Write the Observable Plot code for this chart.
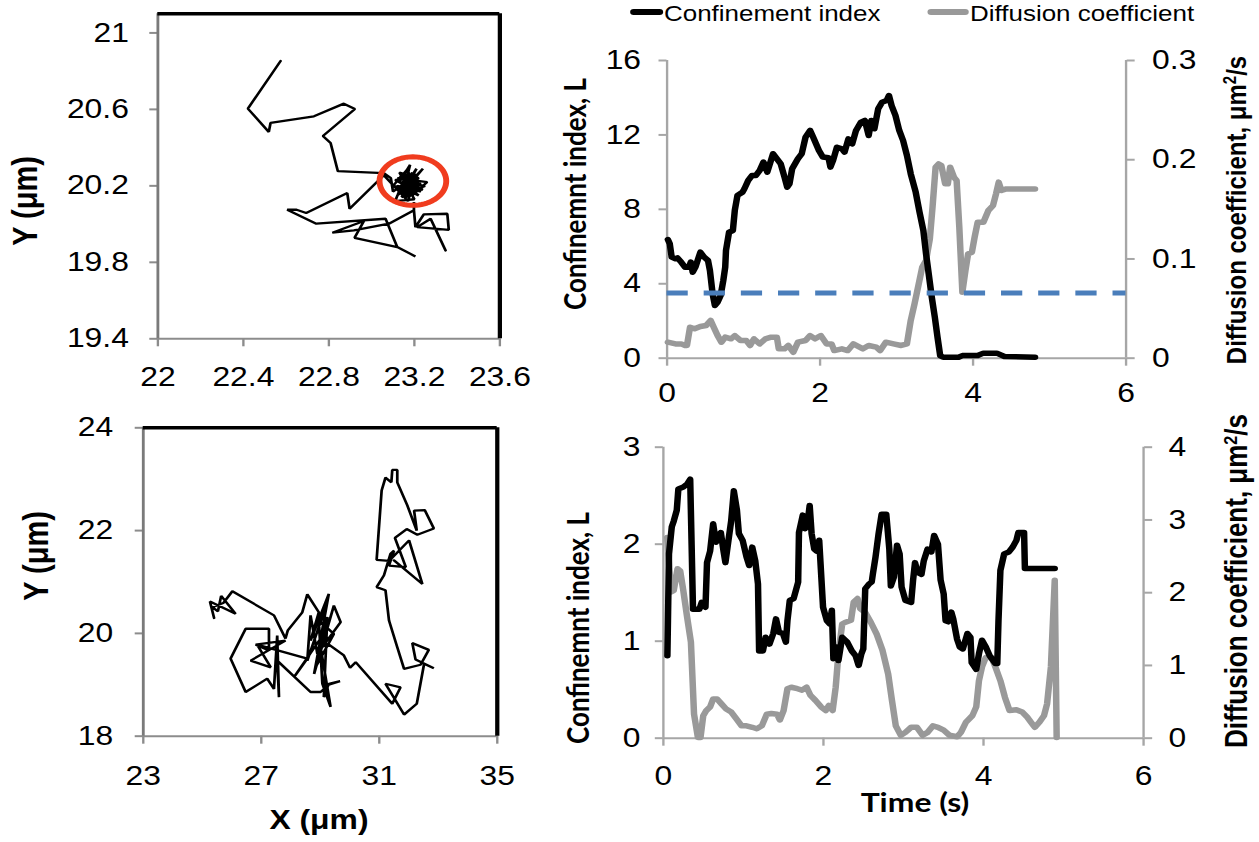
<!DOCTYPE html>
<html><head><meta charset="utf-8">
<script src="https://cdn.jsdelivr.net/npm/d3@7"></script>
<script src="https://cdn.jsdelivr.net/npm/@observablehq/plot@0.6"></script>
<style>
html,body{margin:0;padding:0;background:#fff;overflow:hidden;}
#root{position:relative;height:842px;transform-origin:0 0;font-family:"Liberation Sans",Arial,sans-serif;color:#000;}
#root svg{position:absolute;}
.lbl{position:absolute;white-space:nowrap;line-height:1;transform:translate(-50%,-50%);}
.rot{transform:translate(-50%,-50%) rotate(-90deg);}
.sw{position:absolute;border-radius:3px;}
</style></head><body><div id="root"></div>
<script>
// ---------------- data ----------------
const xTicksA = [22, 22.4, 22.8, 23.2, 23.6];
const yTicksA = [19.4, 19.8, 20.2, 20.6, 21];
const xDomainA = [22, 23.6];
const yDomainA = [19.4, 21.1];
const xTicksB = [23, 27, 31, 35];
const yTicksB = [18, 20, 22, 24];
const xDomainB = [23, 35];
const yDomainB = [18, 24];
const timeTicks = [0, 2, 4, 6];
const ciTicksTop = [0, 4, 8, 12, 16];
const dTicksTop = [0, 0.1, 0.2, 0.3];
const ciTicksBot = [0, 1, 2, 3];
const dTicksBot = [0, 1, 2, 3, 4];
const threshold = [3.5];
const confinedZone = [{cx: 23.193, cy: 20.225, rx: 0.156, ry: 0.127}];

// trajectory, top cell (x, y in µm)
const trajA = [
[22.574,20.853],[22.421,20.604],[22.519,20.482],[22.527,20.529],[22.730,20.564],[22.870,20.630],[22.922,20.602],[22.772,20.461],[22.808,20.424],[22.842,20.277],[23.057,20.267],
[23.09,20.24],[23.10,20.17],[23.21,20.26],[23.14,20.14],[23.23,20.21],[23.12,20.24],[23.26,20.22],[23.19,20.15],[23.17,20.29],[23.10,20.20],[23.24,20.18],[23.15,20.23],[23.11,20.12],[23.20,20.13],[23.13,20.27],[23.22,20.24],[23.12,20.15],[23.24,20.29],[23.18,20.21],[23.16,20.16],[23.25,20.20],[23.13,20.22],[23.18,20.31],[23.15,20.18],[23.21,20.17],[23.11,20.23],[23.19,20.25],[23.17,20.14],[23.23,20.19],[23.14,20.19],[23.19,20.27],[23.16,20.20],[23.22,20.15],[23.12,20.20],[23.18,20.18],[23.20,20.23],[23.15,20.25],[23.20,20.19],[23.16,20.23],[23.19,20.16],[23.13,20.17],[23.22,20.22],[23.17,20.26],[23.14,20.21],[23.21,20.20],[23.16,20.14],[23.19,20.22],[23.13,20.25],[23.23,20.17],[23.17,20.19],[23.15,20.27],[23.20,20.16],[23.14,20.16],[23.18,20.24],[23.21,20.29],[23.17,20.21],[23.12,20.18],[23.20,20.21],[23.16,20.18],[23.19,20.19],[23.18,20.16],[23.17,20.12],
[23.057,20.255],[22.897,20.080],[22.886,20.162],[22.694,20.058],[22.649,20.075],[22.605,20.075],[22.741,20.002],[23.065,20.028],[23.120,19.880],[23.205,19.831],[23.120,19.880],[22.920,19.928],[22.964,20.016],[22.816,19.955],[22.917,19.967],[23.081,20.002],[23.198,20.072],[23.198,20.115],[23.198,20.072],[23.205,19.984],[23.244,20.051],[23.354,20.054],[23.361,19.970],[23.213,19.984],[23.276,20.028],[23.346,19.862]
];

// trajectory, bottom cell (x, y in µm)
const trajB = [
[25.40,20.30],[25.26,20.62],[26.13,20.38],[25.64,20.73],[25.53,20.43],[25.34,20.51],[25.71,20.59],[26.02,20.82],[27.43,20.35],[27.82,19.90],[27.90,20.06],[28.39,20.41],[28.56,20.76],[28.95,20.41],
[28.67,19.86],[29.29,20.77],[28.79,19.21],[29.46,20.54],[29.69,20.22],[28.90,19.60],[28.67,20.35],[28.56,19.47],[29.18,20.51],[29.01,19.73],[29.35,18.57],[29.07,19.02],[28.95,20.25],[29.46,19.99],[28.84,19.34],[29.24,20.32],[29.12,18.76],[29.29,19.02],[29.67,19.07],[29.29,19.00],[29.01,18.86],[28.67,18.86],[27.54,19.47],[27.60,18.76],[27.54,19.96],[27.43,18.92],[27.20,19.12],[26.47,18.86],[25.96,19.51],[26.47,20.09],[27.26,20.09],[27.26,19.67],[26.81,19.78],[27.82,19.86],[26.64,19.47],[27.32,19.34],[26.86,19.78],[28.56,19.51],[28.11,19.15],[29.01,19.90],[29.80,19.57],[30.01,19.33],[30.20,19.44],[31.44,18.63],[31.72,18.95],[31.21,19.02],[31.84,18.42],[32.27,18.63],[32.52,19.41],[32.85,19.32],[32.23,19.49],[32.12,19.81],[32.68,19.68],[32.40,19.39],[31.84,19.31],[31.61,19.73],[31.33,20.25],[31.21,20.84],[30.91,20.90],[31.16,21.13],[31.38,21.55],[31.50,21.61],[31.33,21.32],[31.90,21.29],[31.53,21.86],[31.93,22.03],[32.29,21.92],[32.85,22.04],[32.54,22.40],[32.18,22.39],[32.27,22.00],[31.95,22.49],[31.61,22.94],[31.61,23.18],[31.44,23.18],[31.41,22.94],[31.21,23.03],[31.08,22.78],[30.91,21.43],[31.33,21.41],[32.01,21.81],[32.46,20.96],[31.50,21.42]
];

// time series, top cell
const ciTopT = [0.01,0.035,0.06,0.11,0.135,0.185,0.235,0.285,0.31,0.335,0.37,0.435,0.485,0.535,0.56,0.595,0.625,0.66,0.70,0.735,0.76,0.77,0.81,0.86,0.885,0.92,0.985,1.01,1.06,1.11,1.16,1.21,1.26,1.31,1.385,1.435,1.485,1.535,1.57,1.60,1.635,1.71,1.76,1.81,1.87,1.91,1.985,2.035,2.11,2.135,2.17,2.22,2.285,2.32,2.37,2.42,2.47,2.535,2.585,2.635,2.67,2.71,2.76,2.81,2.87,2.90,2.935,2.985,3.035,3.085,3.135,3.185,3.25,3.30,3.35,3.385,3.42,3.46,3.50,3.535,3.57,3.61,3.81,3.86,4.06,4.135,4.31,4.41,4.81];
const ciTopV = [6.38,6.15,5.43,5.34,5.39,5.16,4.89,4.89,5.16,4.62,4.89,5.70,5.43,5.25,4.71,3.46,2.83,3.01,3.37,4.18,4.89,5.79,6.77,6.86,7.94,8.75,8.92,9.10,9.55,9.82,9.82,10.09,10.54,10.0,10.99,10.72,10.45,9.73,9.19,9.37,10.18,10.72,10.99,11.88,12.24,11.88,11.16,10.81,10.77,10.27,10.63,11.34,11.25,11.08,11.79,11.52,12.24,12.69,12.78,11.97,12.78,12.33,13.41,13.76,13.85,14.12,13.58,13.05,12.24,11.70,10.90,9.91,8.92,7.85,6.86,5.61,4.53,3.28,2.20,1.13,0.14,0.05,0.05,0.14,0.14,0.27,0.27,0.09,0.05];
const dTopT = [0.01,0.11,0.185,0.235,0.26,0.30,0.36,0.435,0.51,0.57,0.61,0.66,0.71,0.76,0.835,0.885,0.96,1.035,1.085,1.135,1.21,1.285,1.36,1.435,1.46,1.535,1.585,1.65,1.71,1.81,1.87,1.935,2.01,2.085,2.15,2.185,2.285,2.36,2.435,2.56,2.635,2.735,2.785,2.86,2.96,3.06,3.135,3.185,3.235,3.285,3.335,3.385,3.435,3.47,3.51,3.55,3.585,3.635,3.67,3.70,3.75,3.785,3.82,3.86,3.90,3.935,3.985,4.02,4.06,4.135,4.20,4.26,4.30,4.335,4.37,4.435,4.81];
const dTopV = [0.0161,0.0144,0.0144,0.0128,0.0128,0.0312,0.0296,0.0319,0.0329,0.0380,0.0312,0.0228,0.0161,0.0212,0.0195,0.0228,0.0178,0.0178,0.0128,0.0195,0.0144,0.0195,0.0212,0.0212,0.0094,0.0094,0.0128,0.0060,0.0161,0.0178,0.0228,0.0195,0.0228,0.0144,0.0144,0.0077,0.0094,0.0077,0.0144,0.0094,0.0128,0.0111,0.0077,0.0161,0.0144,0.0128,0.0144,0.0380,0.0548,0.0732,0.0917,0.0984,0.1203,0.1522,0.1925,0.1958,0.1942,0.1757,0.1757,0.1925,0.1824,0.1790,0.1320,0.0665,0.0883,0.1051,0.1068,0.1219,0.1370,0.1370,0.1488,0.1538,0.1656,0.1774,0.1690,0.1706,0.1706];

// time series, bottom cell
const ciBotT = [0.05,0.057,0.07,0.105,0.13,0.167,0.187,0.25,0.297,0.335,0.37,0.45,0.478,0.526,0.545,0.584,0.622,0.656,0.69,0.718,0.751,0.775,0.813,0.847,0.88,0.919,0.943,0.99,1.038,1.072,1.11,1.148,1.182,1.196,1.244,1.278,1.325,1.373,1.407,1.445,1.493,1.531,1.55,1.579,1.627,1.684,1.694,1.742,1.77,1.804,1.828,1.852,1.885,1.914,1.947,1.995,2.043,2.077,2.105,2.124,2.163,2.187,2.234,2.297,2.354,2.402,2.44,2.474,2.498,2.522,2.57,2.603,2.617,2.651,2.689,2.727,2.785,2.823,2.842,2.88,2.919,2.952,2.976,3.024,3.096,3.12,3.144,3.177,3.225,3.254,3.301,3.349,3.383,3.431,3.464,3.502,3.526,3.56,3.598,3.622,3.67,3.703,3.742,3.799,3.837,3.852,3.909,3.943,3.981,4.029,4.077,4.148,4.172,4.187,4.211,4.258,4.316,4.364,4.411,4.435,4.507,4.517,4.89];
const ciBotV = [0.85,1.21,1.90,2.18,2.24,2.35,2.57,2.59,2.62,2.67,1.33,1.33,1.40,1.35,1.81,1.93,2.21,2.02,2.09,2.12,1.93,1.81,2.04,2.24,2.55,2.35,2.11,2.04,1.87,1.78,1.97,1.83,1.59,0.90,0.90,1.04,0.97,1.08,1.23,1.09,1.08,0.99,1.21,1.42,1.44,1.61,2.12,2.30,2.16,2.24,2.40,2.11,1.95,1.93,2.04,1.35,1.21,1.18,1.32,0.82,0.94,0.80,1.04,0.99,0.90,0.85,0.75,0.87,0.92,1.54,1.59,1.61,1.69,1.87,2.11,2.31,2.31,1.95,1.57,1.66,1.99,1.90,1.56,1.42,1.40,1.63,1.81,1.71,1.69,1.83,1.95,1.92,2.09,2.00,1.63,1.49,1.21,1.20,1.30,1.23,1.02,0.94,0.92,1.08,1.04,0.78,0.71,0.87,1.01,0.94,0.85,0.77,0.77,1.21,1.73,1.90,1.92,1.97,2.04,2.12,2.12,1.75,1.75];
const dBotT = [0.048,0.096,0.129,0.177,0.21,0.249,0.297,0.344,0.383,0.431,0.464,0.498,0.536,0.584,0.622,0.67,0.727,0.785,0.847,0.909,0.976,1.038,1.11,1.167,1.23,1.292,1.349,1.421,1.455,1.502,1.55,1.598,1.675,1.732,1.789,1.837,1.9,1.971,2.029,2.067,2.115,2.153,2.187,2.234,2.268,2.344,2.378,2.426,2.459,2.522,2.593,2.665,2.737,2.809,2.856,2.904,2.967,3.024,3.096,3.167,3.239,3.301,3.368,3.431,3.502,3.574,3.67,3.718,3.78,3.861,3.909,3.943,3.981,4.029,4.1,4.148,4.211,4.268,4.325,4.411,4.483,4.545,4.593,4.641,4.699,4.756,4.794,4.842,4.89,4.914];
const dBotV = [2.76,2.01,2.03,2.33,2.30,2.03,1.66,1.32,0.33,0.01,0.01,0.31,0.38,0.43,0.54,0.54,0.47,0.40,0.36,0.27,0.17,0.17,0.15,0.13,0.17,0.33,0.34,0.33,0.25,0.38,0.68,0.70,0.68,0.66,0.70,0.59,0.52,0.43,0.38,0.45,0.38,0.70,1.16,1.57,1.59,1.62,1.87,1.92,1.78,1.73,1.59,1.43,1.21,0.88,0.52,0.17,0.04,0.08,0.15,0.15,0.04,0.08,0.17,0.15,0.11,0.04,0.02,0.08,0.22,0.31,0.43,0.79,0.98,1.11,1.11,0.98,0.79,0.56,0.38,0.39,0.36,0.29,0.22,0.15,0.22,0.31,0.47,0.98,2.17,0.01];

// ---------------- layout ----------------
const S = 1.18; // the reference figure is stretched horizontally
const FONT = '"Liberation Sans", Arial, sans-serif';
const TICK_FS = 27;
const GRAY_AX = "#a6a6a6";
const root = document.getElementById("root");
root.style.width = (1259 / S) + "px";
root.style.transform = `scaleX(${S})`;

const zip = (t, v) => t.map((d, i) => ({t: d, v: v[i]}));
const ciTop = zip(ciTopT, ciTopV), dTop = zip(dTopT, dTopV);
const ciBot = zip(ciBotT, ciBotV), dBot = zip(dBotT, dBotV);

function geom(l) {
  return {width: l.width / S, height: l.height,
    marginLeft: (l.plotL - l.left) / S, marginRight: (l.left + l.width - l.plotR) / S,
    marginTop: l.plotT - l.top, marginBottom: l.top + l.height - l.plotB};
}
function place(svg, l) {
  svg.style.left = (l.left / S) + "px";
  svg.style.top = l.top + "px";
  root.appendChild(svg);
}
const baseStyle = {fontFamily: FONT, fontSize: TICK_FS + "px", background: "transparent", overflow: "visible", color: "black"};

function trajPanel(l, data, xDom, yDom, xT, yT, extra = []) {
  return Plot.plot({
    ...geom(l),
    x: {domain: xDom, label: null}, y: {domain: yDom, label: null},
    style: baseStyle,
    marks: [
      Plot.axisX(xT, {anchor: "bottom", tickSize: 8, tickPadding: l.xPad, stroke: "#8c8c8c", strokeWidth: 2, color: "black", fontSize: TICK_FS, tickFormat: d => String(d), label: null}),
      Plot.axisY(yT, {anchor: "left", tickSize: 8 / S, tickPadding: l.yPad / S, stroke: "#8c8c8c", strokeWidth: 2, color: "black", fontSize: TICK_FS, tickFormat: d => String(d), label: null}),
      Plot.ruleY([yDom[0]], {stroke: "#8c8c8c", strokeWidth: 2}),
      Plot.ruleX([xDom[0]], {stroke: "#7a7a7a", strokeWidth: 2.4}),
      Plot.line(data, {x: d => d[0], y: d => d[1], stroke: "black", strokeWidth: 2.3, strokeLinejoin: "miter"}),
      ...extra,
      Plot.ruleX([xDom[1]], {stroke: "black", strokeWidth: 3.6}),
      Plot.ruleY([yDom[1]], {stroke: "black", strokeWidth: 3.6})
    ]
  });
}

function timePanel(l, ci, dif, ciMax, dMax, ciT, dT, fmtR, extra = []) {
  const k = ciMax / dMax;
  return Plot.plot({
    ...geom(l),
    x: {domain: [0, 6], label: null}, y: {domain: [0, ciMax], label: null},
    style: baseStyle,
    marks: [
      Plot.ruleY([0], {stroke: GRAY_AX, strokeWidth: 2}),
      Plot.ruleX([0], {stroke: GRAY_AX, strokeWidth: 2}),
      Plot.ruleX([6], {stroke: GRAY_AX, strokeWidth: 2}),
      Plot.axisX(timeTicks, {anchor: "bottom", tickSize: 8, tickPadding: l.xPad, stroke: GRAY_AX, strokeWidth: 2, color: "black", fontSize: TICK_FS, tickFormat: d => String(d), label: null}),
      Plot.axisY(ciT, {anchor: "left", tickSize: 8 / S, tickPadding: l.yPad / S, stroke: GRAY_AX, strokeWidth: 2, color: "black", fontSize: TICK_FS, tickFormat: d => String(d), label: null}),
      Plot.axisY(dT.map(v => v * k), {anchor: "right", tickSize: 8 / S, tickPadding: l.rPad / S, stroke: GRAY_AX, strokeWidth: 2, color: "black", fontSize: TICK_FS, tickFormat: fmtR, label: null}),
      Plot.line(dif, {x: "t", y: d => d.v * k, stroke: "#999999", strokeWidth: 5.5, strokeLinejoin: "round", strokeLinecap: "round"}),
      Plot.line(ci, {x: "t", y: "v", stroke: "black", strokeWidth: 5.5, strokeLinejoin: "round", strokeLinecap: "round"}),
      ...extra
    ]
  });
}

// panel geometry (final pixel coordinates)
const LA = {left: 0, top: 0, width: 520, height: 400, plotL: 157.3, plotR: 499.3, plotT: 13.3, plotB: 338.3, xPad: 20, yPad: 21};
const LB = {left: 0, top: 410, width: 520, height: 432, plotL: 142.7, plotR: 496.7, plotT: 427.3, plotB: 735.7, xPad: 22, yPad: 22};
const LC = {left: 560, top: 0, width: 699, height: 420, plotL: 666, plotR: 1125, plotT: 60, plotB: 357.7, xPad: 17, yPad: 18, rPad: 18};
const LD = {left: 560, top: 410, width: 699, height: 432, plotL: 662.3, plotR: 1142.5, plotT: 446.7, plotB: 737.7, xPad: 20, yPad: 15, rPad: 17};

const z = confinedZone[0];
const ellipsePts = d3.range(0, 73).map(i => {
  const a = i / 72 * 2 * Math.PI;
  return [z.cx + z.rx * Math.cos(a), z.cy + z.ry * Math.sin(a)];
});

place(trajPanel(LA, trajA, xDomainA, yDomainA, xTicksA, yTicksA, [
  Plot.line(ellipsePts, {x: d => d[0], y: d => d[1], stroke: "#f03c1e", strokeWidth: 5})
]), LA);
place(trajPanel(LB, trajB, xDomainB, yDomainB, xTicksB, yTicksB), LB);
place(timePanel(LC, ciTop, dTop, 16, 0.3, ciTicksTop, dTicksTop,
  d => String(Math.round(d * 0.3 / 16 * 10) / 10),
  [Plot.ruleY(threshold, {x1: 0, x2: 6, stroke: "#4a7ebb", strokeWidth: 5, strokeDasharray: "18,13.5"})]), LC);
place(timePanel(LD, ciBot, dBot, 3, 4, ciTicksBot, dTicksBot,
  d => String(Math.round(d * 4 / 3))), LD);

// ---------------- text labels ----------------
function label(html, xF, yF, o) {
  const el = document.createElement("div");
  el.className = "lbl" + (o.rot ? " rot" : "");
  el.innerHTML = html;
  el.style.left = (xF / S) + "px";
  el.style.top = yF + "px";
  el.style.fontSize = o.size + "px";
  el.style.fontWeight = o.weight || "bold";
  el.style.fontFamily = o.family || FONT;
  root.appendChild(el);
}
const CAL = 'Lato, "Open Sans", sans-serif';
const SUP = '<sup style="font-size:0.62em;vertical-align:0.55em;line-height:0">2</sup>';
label("Y (μm)", 26, 201, {size: 29, rot: true});
label("Y (μm)", 37, 556, {size: 29, rot: true});
label("X (μm)", 319, 820, {size: 27});
label("Confinemnt index, L", 575, 194, {size: 26, rot: true, family: CAL});
label("Confinemnt index, L", 577, 628, {size: 26, rot: true, family: CAL});
label("Diffusion coefficient, μm" + SUP + "/s", 1237, 210, {size: 24, rot: true});
label("Diffusion coefficient, μm" + SUP + "/s", 1237, 581, {size: 26, rot: true});
label("Time (s)", 915, 801, {size: 27, family: CAL});

// legend
function swatch(x1, x2, y, color) {
  const el = document.createElement("div");
  el.className = "sw";
  el.style.left = (x1 / S) + "px";
  el.style.width = ((x2 - x1) / S) + "px";
  el.style.top = (y - 3) + "px";
  el.style.height = "6px";
  el.style.background = color;
  root.appendChild(el);
}
function legendText(txt, x, y) {
  const el = document.createElement("div");
  el.className = "lbl";
  el.style.transform = "translate(0,-50%)";
  el.textContent = txt;
  el.style.left = (x / S) + "px";
  el.style.top = y + "px";
  el.style.fontSize = "22px";
  root.appendChild(el);
}
swatch(630, 663, 12, "#000");
legendText("Confinement index", 664, 14);
swatch(927, 969, 12, "#999999");
legendText("Diffusion coefficient", 970, 14);
</script></body></html>
